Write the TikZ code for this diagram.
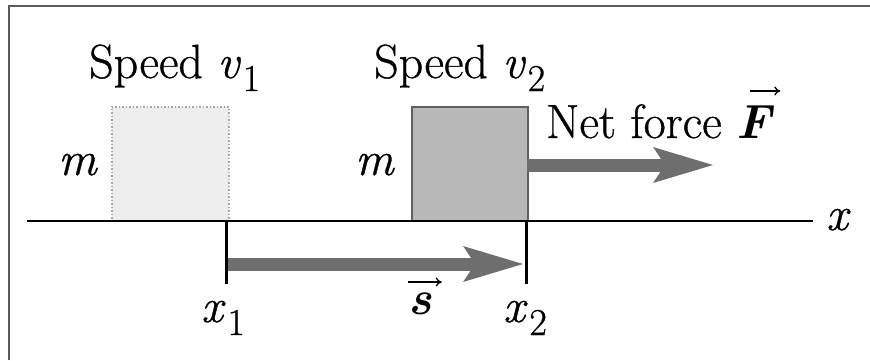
\documentclass[tikz,border=0pt]{standalone}
\usepackage{fontspec}
\setmainfont{Latin Modern Roman}[UprightFeatures={FakeBold=0.7},ItalicFeatures={FakeBold=0.7}]
\usetikzlibrary{arrows.meta}
\definecolor{arrowgray}{HTML}{6E6E6E}
\definecolor{blocktwo}{HTML}{B8B8B8}
\definecolor{blockone}{HTML}{EDEDED}
\definecolor{framegray}{HTML}{5A5A5A}
\newcommand\subidx[1]{\hspace{2pt}\raisebox{-13pt}{\fontsize{38}{38}\selectfont #1}}
\begin{document}
\begin{tikzpicture}[x=1pt,y=-1pt,
  font=\fontsize{48}{50}\selectfont,
  lbl/.style={inner sep=0pt, anchor=base west},
  bigarrow/.style={draw=arrowgray, line width=13pt,
    -{Stealth[length=60pt,width=36pt,inset=12pt,line width=0pt,fill=arrowgray]}},
  vecarrow/.style={draw=black, line width=1.3pt, -{To[length=6pt,width=9pt]}},
  tick/.style={draw=black, line width=3pt},
  axisline/.style={draw=black, line width=2pt},
  framel/.style={draw=framegray, line width=2pt}]
\useasboundingbox (0,0) rectangle (870,360);
% frame (cropped on right and bottom)
\coordinate (fbl) at (9,360);
\coordinate (ftl) at (9,6);
\coordinate (ftr) at (870,6);
\draw[framel] (fbl) -- (ftl) -- (ftr);
% blocks
\node[draw=gray!70, dotted, line width=1.5pt, fill=blockone, inner sep=0pt,
      minimum width=117pt, minimum height=114pt, anchor=north west] (b1) at (111,106) {};
\node[draw=gray!75!black, line width=1.5pt, fill=blocktwo, inner sep=0pt,
      minimum width=116pt, minimum height=114pt, anchor=north west] (b2) at (411,106) {};
% axis
\coordinate (axl) at (27,221);
\coordinate (axr) at (813,221);
\draw[axisline] (axl) -- (axr);
\node[lbl] (xlab) at (826,230) {\textit{x}};
% ticks
\coordinate (t1a) at (226,221);
\coordinate (t1b) at (226,284);
\coordinate (t2a) at (526,221);
\coordinate (t2b) at (526,284);
\draw[tick] (t1a) -- (t1b);
\draw[tick] (t2a) -- (t2b);
% displacement arrow
\coordinate (s0) at (227.5,264);
\coordinate (s1) at (523,264);
\draw[bigarrow] (s0) -- (s1);
% force arrow
\coordinate (f0) at (527,165);
\coordinate (f1) at (713,165);
\draw[bigarrow] (f0) -- (f1);
% labels
\node[lbl] (sp1) at (89,78) {Speed \textit{v}\subidx{1}};
\node[lbl] (sp2) at (374,78) {Speed \textit{v}\subidx{2}};
\node[lbl] (m1) at (58,175) {\textit{m}};
\node[lbl] (m2) at (355,175) {\textit{m}};
\node[lbl] (nf) at (546,138) {Net force \textbf{\textit{F}}};
\node[lbl] (x1) at (201,322) {\textit{x}\subidx{1}};
\node[lbl] (x2) at (503,322) {\textit{x}\subidx{2}};
\node[lbl] (slab) at (408,314) {\textbf{\textit{s}}};
% vector arrows over s and F
\coordinate (yS) at (0,282);
\coordinate (yF) at (0,91);
\coordinate (sl) at ([xshift=0pt]slab.west);
\coordinate (sr) at ([xshift=10pt]slab.east);
\coordinate (va0) at (sl |- yS);
\coordinate (va1) at (sr |- yS);
\draw[vecarrow] (va0) -- (va1);
\coordinate (fl) at ([xshift=-24pt]nf.east);
\coordinate (fr) at ([xshift=6pt]nf.east);
\coordinate (vb0) at (fl |- yF);
\coordinate (vb1) at (fr |- yF);
\draw[vecarrow] (vb0) -- (vb1);
\end{tikzpicture}
\end{document}
